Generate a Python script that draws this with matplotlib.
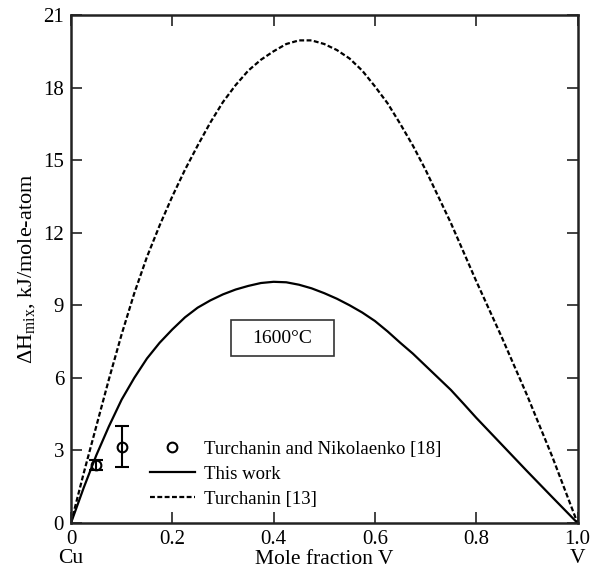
import numpy as np
import matplotlib
matplotlib.use('Agg')
import matplotlib.pyplot as plt
from matplotlib.lines import Line2D
from matplotlib.patches import Rectangle

plt.rcParams['font.family'] = ['Liberation Serif', 'DejaVu Serif']
plt.rcParams['mathtext.fontset'] = 'custom'
plt.rcParams['mathtext.rm'] = 'Liberation Serif'

# mole fraction V
x_calc = [0, 0.025, 0.05, 0.075, 0.1, 0.125, 0.15, 0.175, 0.2, 0.225, 0.25,
          0.275, 0.3, 0.325, 0.35, 0.375, 0.4, 0.425, 0.45, 0.475, 0.5,
          0.525, 0.55, 0.575, 0.6, 0.625, 0.65, 0.675, 0.7, 0.725, 0.75,
          0.775, 0.8, 0.85, 0.9, 0.95, 1.0]
# this work, kJ/mole-atom
this_work = [0, 1.45, 2.8, 4.0, 5.1, 6.0, 6.8, 7.45, 8.0, 8.5, 8.9,
             9.2, 9.45, 9.65, 9.8, 9.92, 9.97, 9.95, 9.85, 9.7, 9.5,
             9.27, 9.0, 8.7, 8.35, 7.92, 7.45, 7.0, 6.5, 6.0, 5.5,
             4.93, 4.35, 3.25, 2.15, 1.07, 0]
# Turchanin [13]
turchanin = [0, 2.05, 4.0, 5.95, 7.8, 9.5, 11.0, 12.3, 13.5, 14.6, 15.6,
             16.55, 17.4, 18.1, 18.7, 19.15, 19.5, 19.8, 19.95, 19.95, 19.8,
             19.55, 19.2, 18.7, 18.05, 17.35, 16.5, 15.6, 14.6, 13.5, 12.4,
             11.2, 10.0, 7.7, 5.3, 2.75, 0]
# Turchanin and Nikolaenko [18]
x_exp = [0.05, 0.1]
h_exp = [2.4, 3.15]
h_err = [0.2, 0.85]

fig = plt.figure(figsize=(5.93, 5.72), dpi=100)
ax = fig.add_axes([0.1197, 0.0857, 0.8542, 0.8881])

ax.errorbar(x_exp, h_exp, yerr=h_err, fmt='o', mfc='none', mec='black', ecolor='black',
            ms=7, mew=1.5, elinewidth=1.5, capsize=5, capthick=1.5)
ax.plot(x_calc, this_work, color='black', lw=1.6)
ax.plot(x_calc, turchanin, color='black', lw=1.6, ls=(0, (2.2, 1.1)))

ax.set_xlim(0, 1.0)
ax.set_ylim(0, 21)
ax.set_xticks([0, 0.2, 0.4, 0.6, 0.8, 1.0])
ax.set_xticklabels(['0', '0.2', '0.4', '0.6', '0.8', '1.0'])
ax.set_yticks(range(0, 22, 3))
ax.tick_params(direction='in', length=8, width=1.2, labelsize=15,
               top=True, right=True, pad=5, colors='#222222', labelcolor='black')
for s in ax.spines.values():
    s.set_linewidth(1.8)
    s.set_color('#222222')

ax.set_xlabel('Mole fraction V', fontsize=15.5, labelpad=1)
ax.set_ylabel(r'$\Delta$H$_{\mathrm{mix}}$, kJ/mole-atom', fontsize=16, labelpad=4)

ax.text(0, -0.052, 'Cu', transform=ax.transAxes, ha='center', va='top', fontsize=15.5)
ax.text(1.0, -0.052, 'V', transform=ax.transAxes, ha='center', va='top', fontsize=15.5)

# 1600°C box
ax.add_patch(Rectangle((0.316, 6.91), 0.203, 1.49, fill=False, ec='#333333', lw=1.2))
ax.text(0.4175, 7.62, '1600°C', ha='center', va='center', fontsize=14)

handles = [
    Line2D([], [], ls='none', marker='o', mfc='none', mec='black', ms=7, mew=1.5),
    Line2D([], [], color='black', lw=1.6),
    Line2D([], [], color='black', lw=1.6, ls=(0, (2.2, 1.1))),
]
labels = ['Turchanin and Nikolaenko [18]', 'This work', 'Turchanin [13]']
ax.legend(handles, labels, loc='lower left', bbox_to_anchor=(0.141, 0.015),
          frameon=False, fontsize=13.5, handlelength=2.4, handletextpad=0.5,
          labelspacing=0.42, borderaxespad=0)

fig.savefig('out.png', dpi=100)
